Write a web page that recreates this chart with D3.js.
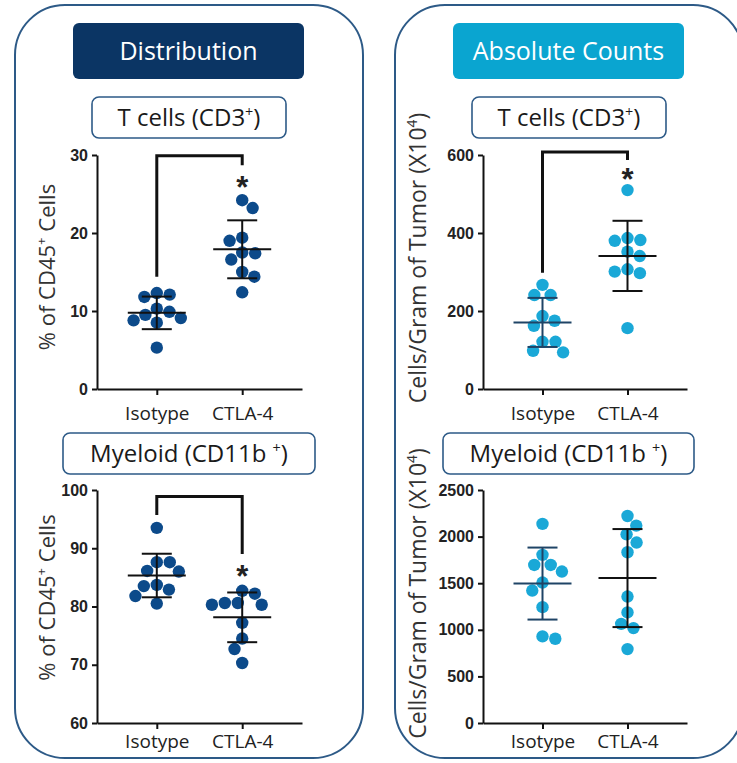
<!DOCTYPE html>
<html>
<head>
<meta charset="utf-8">
<script src="https://cdn.jsdelivr.net/npm/d3@7"></script>
<style>
body { margin: 0; background: #fff; }
text { font-family: "Open Sans", sans-serif; }
</style>
</head>
<body>
<script>
// categories and tick labels
var groups = ["Isotype", "CTLA-4"];
var pctTTicks = [0, 10, 20, 30],
    pctMTicks = [60, 70, 80, 90, 100],
    absTTicks = [0, 200, 400, 600],
    absMTicks = [0, 500, 1000, 1500, 2000, 2500];

// values
var tIsoPct  = [12.3, 12.1, 11.8, 10.3, 9.9, 9.5, 9.1, 8.8, 8.5, 5.3],
    tCtlaPct = [24.2, 23.2, 19.4, 19.0, 17.5, 17.4, 16.6, 15.0, 14.4, 12.4];
var mIsoPct  = [93.5, 87.6, 87.6, 86.1, 86.0, 83.7, 83.5, 82.9, 81.8, 80.5],
    mCtlaPct = [82.7, 82.2, 80.6, 80.6, 80.3, 80.3, 77.2, 74.5, 72.7, 70.3];
var tIsoAbs  = [267, 241, 241, 187, 175, 162, 121, 121, 98, 94],
    tCtlaAbs = [510, 387, 382, 380, 352, 341, 307, 301, 297, 156];
var mIsoAbs  = [2136, 1804, 1696, 1696, 1625, 1507, 1421, 1243, 929, 904],
    mCtlaAbs = [2221, 2118, 2025, 1936, 1832, 1357, 1186, 1064, 1018, 793];

// significance brackets: [start on Isotype, top, end on CTLA-4], asterisk level
var tPctBracket = [14.4, 29.9, 28.7], tPctStar = 26.8;
var mPctBracket = [95.7, 98.9, 89.0], mPctStar = 86.5;
var tAbsBracket = [298, 608, 587], tAbsStar = 556;

var navy = "#0b3564", cyan = "#0aa5d0",
    navyDot = "#0c4a8a", cyanDot = "#1aa8d7",
    frame = "#2d5a87";

var svg = d3.select("body").append("svg")
    .attr("width", 737)
    .attr("height", 763);

// big rounded panels
[15, 395].forEach(function(x) {
  svg.append("rect")
    .attr("x", x).attr("y", 5)
    .attr("width", 348).attr("height", 753)
    .attr("rx", 50)
    .attr("fill", "none")
    .attr("stroke", frame)
    .attr("stroke-width", 2);
});

// headers
function header(x, w, fill, label) {
  svg.append("rect")
    .attr("x", x).attr("y", 23)
    .attr("width", w).attr("height", 56)
    .attr("rx", 6)
    .attr("fill", fill);
  svg.append("text")
    .attr("x", x + w / 2).attr("y", 51)
    .attr("dy", "0.36em")
    .attr("text-anchor", "middle")
    .attr("fill", "#fff")
    .style("font-size", "25px")
    .text(label);
}
header(73, 231, navy, "Distribution");
header(453, 231, cyan, "Absolute Counts");

// text with a superscript part
function supText(sel, base, sup, tail, size) {
  sel.append("tspan").text(base);
  sel.append("tspan").attr("dy", -size * 0.38).style("font-size", (size * 0.6) + "px").text(sup);
  sel.append("tspan").attr("dy", size * 0.38).text(tail);
}

// subtitle boxes
function subtitle(x, y, w, base, sup, tail) {
  svg.append("rect")
    .attr("x", x).attr("y", y)
    .attr("width", w).attr("height", 41)
    .attr("rx", 7)
    .attr("fill", "#fff")
    .attr("stroke", frame)
    .attr("stroke-width", 1.6);
  var t = svg.append("text")
    .attr("x", x + w / 2).attr("y", y + 20.5)
    .attr("dy", "0.36em")
    .attr("text-anchor", "middle")
    .attr("fill", "#1a1a1a")
    .style("font-size", "24px");
  supText(t, base, sup, tail, 24);
}
subtitle(92, 97, 194, "T cells (CD3", "+", ")");
subtitle(472, 97, 194, "T cells (CD3", "+", ")");
subtitle(63, 433, 252, "Myeloid (CD11b ", "+", ")");
subtitle(443, 433, 251, "Myeloid (CD11b ", "+", ")");

// beeswarm: smallest sideways shift that keeps dots at least dist apart
function swarm(vals, y, dist) {
  var placed = [], off = [], side = 1;
  var order = vals.map(function(v, i) { return i; })
    .sort(function(a, b) { return vals[b] - vals[a]; });
  order.forEach(function(i) {
    var py = y(vals[i]), spans = [];
    placed.forEach(function(p) {
      var dy = Math.abs(p.y - py);
      if (dy < dist) {
        var hw = Math.sqrt(dist * dist - dy * dy);
        spans.push([p.x - hw, p.x + hw]);
      }
    });
    var cands = [0];
    spans.forEach(function(s) { cands.push(s[0], s[1]); });
    cands = cands.filter(function(c) {
      return spans.every(function(s) { return c <= s[0] + 1e-6 || c >= s[1] - 1e-6; });
    });
    cands.sort(function(a, b) {
      var d = Math.abs(a) - Math.abs(b);
      if (Math.abs(d) > 0.5) return d;
      return side * (b - a);
    });
    var dx = cands[0];
    if (dx !== 0) side = -side;
    off[i] = dx;
    placed.push({x: dx, y: py});
  });
  return off;
}

function plot(cfg) {
  var x = d3.scalePoint().domain(groups).range([cfg.x0, cfg.x1]).padding(0.7);
  var y = d3.scaleLinear().domain(cfg.domain).range([cfg.y1, cfg.y0]);
  var g = svg.append("g");

  var ya = g.append("g")
    .attr("transform", "translate(" + cfg.x0 + ",0)")
    .call(d3.axisLeft(y).tickValues(cfg.ticks).tickFormat(d3.format("d"))
      .tickSize(5).tickSizeOuter(0).tickPadding(4));
  ya.selectAll("text")
    .style("font-family", "'Liberation Sans', Arial, sans-serif")
    .style("font-weight", "bold")
    .style("font-size", "16px")
    .attr("fill", "#222");

  var xa = g.append("g")
    .attr("transform", "translate(0," + cfg.y1 + ")")
    .call(d3.axisBottom(x).tickSize(6).tickSizeOuter(0).tickPadding(cfg.pad));
  xa.selectAll("text")
    .style("font-family", "'Open Sans', sans-serif")
    .style("font-size", "19px")
    .attr("fill", "#222");

  g.selectAll(".domain, .tick line")
    .attr("stroke", "#111")
    .attr("stroke-width", 2);

  // y label
  var lab = g.append("text")
    .attr("transform", "translate(" + cfg.labelX + "," + ((cfg.y0 + cfg.y1) / 2 + cfg.labelDy) + ") rotate(-90)")
    .attr("dy", "0.35em")
    .attr("text-anchor", "middle")
    .attr("fill", "#333")
    .style("font-size", cfg.labelSize + "px");
  supText(lab, cfg.label[0], cfg.label[1], cfg.label[2], cfg.labelSize);

  // bracket
  if (cfg.bracket) {
    g.append("path")
      .attr("d", "M" + x(groups[0]) + "," + y(cfg.bracket[0]) +
                 "V" + y(cfg.bracket[1]) +
                 "H" + x(groups[1]) +
                 "V" + y(cfg.bracket[2]))
      .attr("fill", "none")
      .attr("stroke", "#111")
      .attr("stroke-width", 3);
    g.append("text")
      .attr("x", x(groups[1]))
      .attr("y", y(cfg.star) + 18)
      .attr("text-anchor", "middle")
      .attr("fill", "#222")
      .style("font-family", "'Liberation Sans', Arial, sans-serif")
      .style("font-weight", "bold")
      .style("font-size", "31px")
      .text("*");
  }

  cfg.series.forEach(function(vals, gi) {
    var cx = x(groups[gi]);
    var off = swarm(vals, y, 13);
    g.append("g").selectAll("circle")
      .data(vals)
      .enter().append("circle")
      .attr("cx", function(d, i) { return cx + off[i]; })
      .attr("cy", function(d) { return y(d); })
      .attr("r", 6.2)
      .attr("fill", cfg.color);

    // mean and SD
    var m = d3.mean(vals), sd = d3.deviation(vals);
    var barColor = cfg.isoBar && gi === 0 ? cfg.isoBar : "#111";
    var eb = g.append("g").attr("stroke", barColor).attr("stroke-width", 2);
    eb.append("line").attr("x1", cx - 29).attr("x2", cx + 29).attr("y1", y(m)).attr("y2", y(m));
    eb.append("line").attr("x1", cx).attr("x2", cx).attr("y1", y(m - sd)).attr("y2", y(m + sd));
    [m - sd, m + sd].forEach(function(v) {
      eb.append("line").attr("x1", cx - 15).attr("x2", cx + 15).attr("y1", y(v)).attr("y2", y(v));
    });
  });
}

plot({x0: 97, x1: 302, y0: 155, y1: 389, domain: [0, 30], ticks: pctTTicks, pad: 12,
      series: [tIsoPct, tCtlaPct], color: navyDot, labelX: 47, labelDy: -5, labelSize: 22,
      label: ["% of CD45", "+", " Cells"], bracket: tPctBracket, star: tPctStar});
plot({x0: 97, x1: 302, y0: 490, y1: 723, domain: [60, 100], ticks: pctMTicks, pad: 6,
      series: [mIsoPct, mCtlaPct], color: navyDot, labelX: 47, labelDy: -9, labelSize: 22,
      label: ["% of CD45", "+", " Cells"], bracket: mPctBracket, star: mPctStar});
plot({x0: 483, x1: 687, y0: 155, y1: 389, domain: [0, 600], ticks: absTTicks, pad: 12,
      series: [tIsoAbs, tCtlaAbs], color: cyanDot, labelX: 418, labelDy: -14, labelSize: 23,
      isoBar: "#1f4466",
      label: ["Cells/Gram of Tumor (X10", "4", ")"], bracket: tAbsBracket, star: tAbsStar});
plot({x0: 483, x1: 687, y0: 490, y1: 723, domain: [0, 2500], ticks: absMTicks, pad: 6,
      series: [mIsoAbs, mCtlaAbs], color: cyanDot, labelX: 418, labelDy: -13, labelSize: 23,
      isoBar: "#1f4466",
      label: ["Cells/Gram of Tumor (X10", "4", ")"]});
</script>
</body>
</html>
